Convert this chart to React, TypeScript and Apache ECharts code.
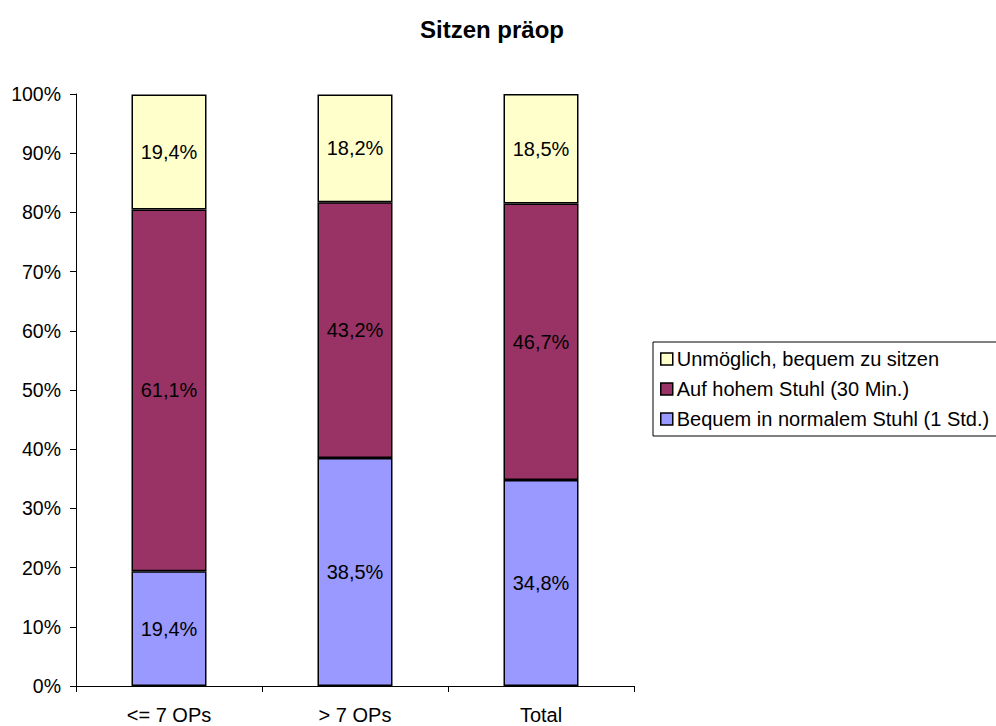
import React, { useEffect, useRef } from "react";
import * as echarts from "echarts";

const categories = ["<= 7 OPs", "> 7 OPs", "Total"];
const bequem = [19.4, 38.5, 34.8];
const hoherStuhl = [61.1, 43.2, 46.7];
const unmoeglich = [19.4, 18.2, 18.5];

const seriesNames = [
  "Bequem in normalem Stuhl (1 Std.)",
  "Auf hohem Stuhl (30 Min.)",
  "Unmöglich, bequem zu sitzen",
];
const seriesColors = ["#9999FF", "#993366", "#FFFFCC"];
const seriesData = [bequem, hoherStuhl, unmoeglich];

const FONT = "'Liberation Sans', Arial, Helvetica, sans-serif";

export default function App() {
  const ref = useRef<HTMLDivElement>(null);

  useEffect(() => {
    if (!ref.current) return;
    const chart = echarts.init(ref.current, null, { renderer: "svg" });
    const fmt = (v: number) => `${v.toFixed(1).replace(".", ",")}%`;

    chart.setOption({
      animation: false,
      backgroundColor: "#ffffff",
      textStyle: { fontFamily: FONT, color: "#000" },
      title: {
        text: "Sitzen präop",
        left: 487,
        textAlign: "center",
        top: 12,
        textStyle: { fontFamily: FONT, fontSize: 24, fontWeight: "bold", color: "#000" },
      },
      legend: {
        orient: "vertical",
        left: 653,
        top: 342,
        data: [seriesNames[2], seriesNames[1], seriesNames[0]],
        icon: "rect",
        itemWidth: 12,
        itemHeight: 12,
        itemGap: 10,
        padding: [7, 10, 7, 7],
        borderColor: "#000",
        borderWidth: 1,
        selectedMode: false,
        itemStyle: { borderColor: "#000", borderWidth: 1.5 },
        textStyle: { fontFamily: FONT, fontSize: 20, color: "#000", padding: [0, 0, 0, -1], lineHeight: 20 },
      },
      grid: { left: 76, right: 362, top: 94, bottom: 40, containLabel: false },
      xAxis: {
        type: "category",
        data: categories,
        axisLine: { lineStyle: { color: "#000", width: 1 } },
        axisTick: { show: true, length: 6, lineStyle: { color: "#000" } },
        axisLabel: { fontFamily: FONT, fontSize: 20, color: "#000", margin: 19 },
      },
      yAxis: {
        type: "value",
        min: 0,
        max: 100,
        interval: 10,
        splitLine: { show: false },
        axisLine: { show: true, lineStyle: { color: "#000", width: 1 } },
        axisTick: { show: true, length: 6, lineStyle: { color: "#000" } },
        axisLabel: {
          fontFamily: FONT,
          fontSize: 19.5,
          color: "#000",
          margin: 15,
          formatter: "{value}%",
        },
      },
      series: seriesNames.map((name, i) => ({
        name,
        type: "bar",
        stack: "total",
        barWidth: 75,
        data: seriesData[i],
        itemStyle: { color: seriesColors[i], borderColor: "#000", borderWidth: 1.5 },
        label: {
          show: true,
          position: "inside",
          fontFamily: FONT,
          fontSize: 20,
          color: "#000",
          formatter: (p: any) => fmt(p.value),
        },
      })),
    });

    return () => chart.dispose();
  }, []);

  return (
    <div
      ref={ref}
      style={{ position: "absolute", left: 0, top: 0, width: 996, height: 726 }}
    />
  );
}
